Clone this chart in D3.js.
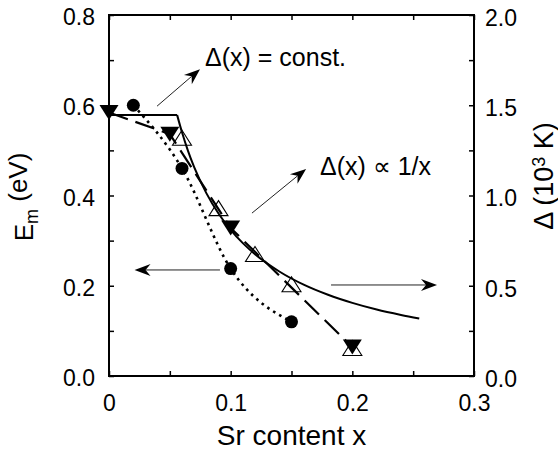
<!DOCTYPE html>
<html><head><meta charset="utf-8">
<script src="https://cdn.jsdelivr.net/npm/d3@7/dist/d3.min.js"></script>
<style>
html,body{margin:0;padding:0;background:#fff;}
svg{display:block;font-family:"Liberation Sans",Arial,Helvetica,sans-serif;}
</style></head>
<body>
<svg id="chart" width="558" height="451"></svg>
<script>
// ---- data ----
// E_m (left axis, eV) – filled circles, dotted line
const emX = [0.02, 0.06, 0.10, 0.15];
const emY = [0.60, 0.46, 0.238, 0.12];
// Delta (right axis, 10^3 K) – filled down triangles, dashed line
const dFilledX = [0.0, 0.05, 0.10, 0.20];
const dFilledY = [1.46, 1.34, 0.82, 0.16];
// Delta (right axis) – open up triangles
const dOpenX = [0.06, 0.09, 0.12, 0.15, 0.20];
const dOpenY = [1.32, 0.93, 0.676, 0.508, 0.155];
// Model curve: Delta = const for small x, then ~1/x
const fitFlatX = [0.0, 0.056];
const fitFlatY = [1.446, 1.446];
const fitCurveX = [0.056, 0.06, 0.065, 0.07, 0.08, 0.09, 0.10, 0.11, 0.12, 0.14, 0.16, 0.18, 0.20, 0.22, 0.24, 0.255];
const fitCurveY = [1.446, 1.35, 1.246, 1.157, 1.013, 0.90, 0.81, 0.736, 0.675, 0.579, 0.506, 0.45, 0.405, 0.368, 0.338, 0.318];
// ticks
const xTicks = [0, 0.05, 0.1, 0.15, 0.2, 0.25, 0.3];
const xLabels = ["0", "", "0.1", "", "0.2", "", "0.3"];
const yLeftTicks = [0, 0.1, 0.2, 0.3, 0.4, 0.5, 0.6, 0.7, 0.8];
const yLeftLabels = ["0.0", "", "0.2", "", "0.4", "", "0.6", "", "0.8"];
const yRightTicks = [0, 0.25, 0.5, 0.75, 1.0, 1.25, 1.5, 1.75, 2.0];
const yRightLabels = ["0.0", "", "0.5", "", "1.0", "", "1.5", "", "2.0"];
// annotation arrows in data coords (x, left-axis y)
const arrowFrom = [[0.0395, 0.598], [0.1175, 0.361], [0.0912, 0.235], [0.1825, 0.2017]];
const arrowTo   = [[0.0748, 0.680], [0.162, 0.459], [0.021, 0.235], [0.2696, 0.2017]];
const noteText = ["Δ(x) = const.", "Δ(x) ∝ 1/x"];
const notePos = [[0.0789, 0.687], [0.1734, 0.4454]];

// ---- layout ----
const svg = d3.select("#chart");
const L = 109, R = 474, T = 15, B = 376;
const x = d3.scaleLinear().domain([0, 0.3]).range([L, R]);
const yL = d3.scaleLinear().domain([0, 0.8]).range([B, T]);
const yR = d3.scaleLinear().domain([0, 2.0]).range([B, T]);

const tickFont = 23;
function styleAxis(g){
  g.select(".domain").remove();
  g.selectAll(".tick line").attr("stroke", "#000").attr("stroke-width", 1.5);
  g.selectAll(".tick text").attr("fill", "#000").style("font-size", tickFont + "px")
   .style("font-family", '"Liberation Sans",Arial,sans-serif');
}
svg.append("g").attr("transform", `translate(0,${B})`)
  .call(d3.axisBottom(x).tickValues(xTicks).tickSize(-5).tickPadding(19)
    .tickFormat((d, i) => xLabels[i]))
  .call(styleAxis).selectAll(".tick text").attr("dy", "0.71em");
svg.append("g").attr("transform", `translate(0,${T})`)
  .call(d3.axisTop(x).tickValues(xTicks).tickSize(-5).tickFormat(() => ""))
  .call(styleAxis);
svg.append("g").attr("transform", `translate(${L},0)`)
  .call(d3.axisLeft(yL).tickValues(yLeftTicks).tickSize(-5).tickPadding(14)
    .tickFormat((d, i) => yLeftLabels[i]))
  .call(styleAxis).selectAll(".tick text").attr("dy", "0.42em");
svg.append("g").attr("transform", `translate(${R},0)`)
  .call(d3.axisRight(yR).tickValues(yRightTicks).tickSize(-5).tickPadding(11)
    .tickFormat((d, i) => yRightLabels[i]))
  .call(styleAxis).selectAll(".tick text").attr("dy", "0.45em");

// frame
svg.append("rect").attr("x", L).attr("y", T).attr("width", R - L).attr("height", B - T)
  .attr("fill", "none").attr("stroke", "#000").attr("stroke-width", 2);

// ---- lines ----
const lineL = d3.line().x(d => x(d[0])).y(d => yL(d[1]));
const lineR = d3.line().x(d => x(d[0])).y(d => yR(d[1]));
const zip = (a, b) => a.map((v, i) => [v, b[i]]);

svg.append("path").attr("d", lineL.curve(d3.curveMonotoneX)(zip(emX, emY)))
  .attr("fill", "none").attr("stroke", "#000").attr("stroke-width", 2.6)
  .attr("stroke-dasharray", "2.6,4.4");
svg.append("path").attr("d", lineR.curve(d3.curveLinear)(zip(dFilledX, dFilledY)))
  .attr("fill", "none").attr("stroke", "#000").attr("stroke-width", 2.2)
  .attr("stroke-dasharray", "20,8");
svg.append("path").attr("d", lineR.curve(d3.curveLinear)(zip(fitFlatX, fitFlatY)))
  .attr("fill", "none").attr("stroke", "#000").attr("stroke-width", 2);
svg.append("path").attr("d", lineR.curve(d3.curveMonotoneX)(zip(fitCurveX, fitCurveY)))
  .attr("fill", "none").attr("stroke", "#000").attr("stroke-width", 2);

// ---- markers ----
const tw = 9.5, th = 15;
svg.append("g").selectAll("path").data(zip(dOpenX, dOpenY)).join("path")
  .attr("d", d => { const cx = x(d[0]), cy = yR(d[1]);
    return `M${cx},${cy - th/2}L${cx + tw},${cy + th/2}L${cx - tw},${cy + th/2}Z`; })
  .attr("fill", "none").attr("stroke", "#000").attr("stroke-width", 1.1);
svg.append("g").selectAll("path").data(zip(dFilledX, dFilledY)).join("path")
  .attr("d", d => { const cx = x(d[0]), cy = yR(d[1]);
    return `M${cx - tw},${cy - th/2}L${cx + tw},${cy - th/2}L${cx},${cy + th/2}Z`; })
  .attr("fill", "#000");
svg.append("g").selectAll("circle").data(zip(emX, emY)).join("circle")
  .attr("cx", d => x(d[0])).attr("cy", d => yL(d[1])).attr("r", 6.5).attr("fill", "#000");

// ---- arrows ----
arrowFrom.forEach((f, i) => {
  const t = arrowTo[i];
  const x1 = x(f[0]), y1 = yL(f[1]), x2 = x(t[0]), y2 = yL(t[1]);
  const ang = Math.atan2(y2 - y1, x2 - x1);
  const len = 16, hw = 6, notch = 11;
  const ux = Math.cos(ang), uy = Math.sin(ang), px = -uy, py = ux;
  svg.append("line").attr("x1", x1).attr("y1", y1)
    .attr("x2", x2 - ux * notch).attr("y2", y2 - uy * notch)
    .attr("stroke", "#222").attr("stroke-width", 1);
  const bx = x2 - ux * len, by = y2 - uy * len;
  const nx = x2 - ux * notch, ny = y2 - uy * notch;
  svg.append("path")
    .attr("d", `M${x2},${y2}L${bx + px*hw},${by + py*hw}L${nx},${ny}L${bx - px*hw},${by - py*hw}Z`)
    .attr("fill", "#000");
});

// ---- annotation text ----
noteText.forEach((s, i) => {
  svg.append("text").attr("x", x(notePos[i][0])).attr("y", yL(notePos[i][1]))
    .style("font-size", "25px").attr("fill", "#000").text(s);
});

// ---- axis titles ----
svg.append("text").attr("x", (L + R) / 2).attr("y", 445).attr("text-anchor", "middle")
  .style("font-size", "28px").text("Sr content x");
const lt = svg.append("text").attr("transform", `translate(33,197) rotate(-90)`)
  .attr("text-anchor", "middle").style("font-size", "26px");
lt.append("tspan").text("E");
lt.append("tspan").attr("dy", "0.3em").style("font-size", "18px").text("m");
lt.append("tspan").attr("dy", "-0.45em").text(" (eV)");
const rt = svg.append("text").attr("transform", `translate(553,176) rotate(-90)`)
  .attr("text-anchor", "middle").style("font-size", "27px");
rt.append("tspan").text("Δ (10");
rt.append("tspan").attr("dy", "-0.45em").style("font-size", "18px").text("3");
rt.append("tspan").attr("dy", "0.3em").text(" K)");
</script>
</body></html>
